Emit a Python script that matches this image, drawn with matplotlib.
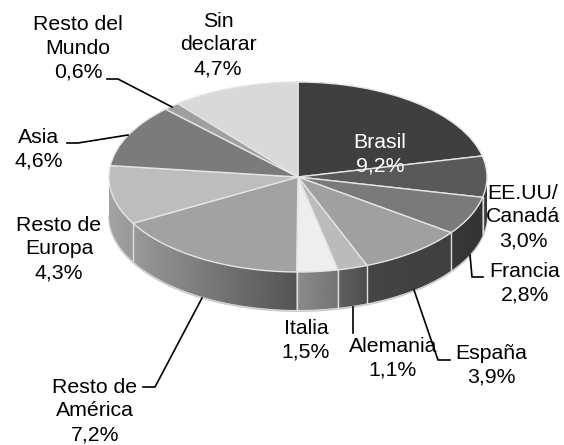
import numpy as np
import matplotlib
matplotlib.use("Agg")
import matplotlib.pyplot as plt
from matplotlib.patches import Polygon

plt.rcParams['font.family'] = ['Liberation Sans', 'DejaVu Sans']

names = ["Brasil", "EE.UU/\nCanadá", "Francia", "España", "Alemania", "Italia",
         "Resto de\nAmérica", "Resto de\nEuropa", "Asia", "Resto del\nMundo", "Sin\ndeclarar"]
values = [9.2, 3.0, 2.8, 3.9, 1.1, 1.5, 7.2, 4.3, 4.6, 0.6, 4.7]
pct_labels = ["9,2%", "3,0%", "2,8%", "3,9%", "1,1%", "1,5%", "7,2%", "4,3%", "4,6%", "0,6%", "4,7%"]

top_colors = ["#3f3f3f", "#595959", "#7a7a7a", "#a0a0a0", "#bbbbbb", "#eeeeee",
              "#a2a2a2", "#bdbdbd", "#7b7b7b", "#a0a0a0", "#d9d9d9"]
# grey level of the side wall at its left / right end on screen
wall_left = [0.25, 0.22, 0.22, 0.27, 0.38, 0.55, 0.60, 0.64, 0.5, 0.6, 0.8]
wall_right = [0.25, 0.22, 0.20, 0.25, 0.30, 0.45, 0.33, 0.60, 0.5, 0.6, 0.8]

# label centre in pixels, from the top left corner
label_x = [380, 523, 525, 491, 393, 306, 95, 59, 39, 78, 218]
label_y = [154, 217, 283, 365, 358, 340, 411, 249, 149, 48, 45]

leaders = [
    [(107, 79), (118, 79), (172, 107)],
    [(67, 143), (78, 143), (128, 135)],
    [(143, 387), (155, 387), (202, 298)],
    [(353, 333), (353, 307)],
    [(450, 360), (438, 360), (414, 290)],
    [(483, 277), (472, 277), (470, 255)],
]

W, H = 564, 445
cx, cy, rx, ry, depth = 298, 177, 189, 95, 38

fig = plt.figure(figsize=(W / 100, H / 100), dpi=100)
ax = fig.add_axes([0, 0, 1, 1])

total = sum(values)
edges = np.cumsum([0] + values) / total * 360
d = depth / ry

# side walls, only the front half of the pie shows
for i in range(len(values)):
    a0 = max(edges[i], 90)
    a1 = min(edges[i + 1], 270)
    if a1 <= a0:
        continue
    t = np.radians(np.linspace(a0, a1, 60))
    xs, ys = np.sin(t), np.cos(t)
    outline = np.column_stack([np.r_[xs, xs[::-1]], np.r_[ys, ys[::-1] - d]])
    grad = np.linspace(wall_left[i], wall_right[i], 100).reshape(1, -1)
    im = ax.imshow(grad, cmap='gray', vmin=0, vmax=1, aspect='auto', zorder=0.5,
                   extent=[xs.min(), xs.max(), outline[:, 1].min(), outline[:, 1].max()])
    im.set_clip_path(Polygon(outline, transform=ax.transData))
    # separator at the clockwise end of the wall
    if edges[i + 1] < 270:
        ax.plot([xs[-1]] * 2, [ys[-1], ys[-1] - d], color="#dddddd", lw=1, zorder=0.6)

# soft rim below the wall
t = np.radians(np.linspace(90, 270, 200))
ax.plot(np.sin(t), np.cos(t) - d - 0.012, color="#cccccc", lw=1.2, zorder=0.4)

ax.pie(values, radius=1, startangle=90, counterclock=False, colors=top_colors,
       frame=True, wedgeprops=dict(edgecolor="#e4e4e4", linewidth=1))
ax.set_aspect('auto')
ax.set_xlim(-cx / rx, (W - cx) / rx)
ax.set_ylim(-(H - cy) / ry, cy / ry)
ax.axis('off')

# labels and leader lines live in pixel coordinates
over = fig.add_axes([0, 0, 1, 1], facecolor='none')
over.set_xlim(0, W)
over.set_ylim(H, 0)
over.axis('off')
for pts in leaders:
    over.plot([p[0] for p in pts], [p[1] for p in pts], color="black", lw=1.2, zorder=2)
for i, name in enumerate(names):
    color = "white" if name == "Brasil" else "black"
    over.text(label_x[i], label_y[i], name + "\n" + pct_labels[i], ha='center', va='center',
              fontsize=15.3, color=color, linespacing=1.32, zorder=3)

fig.savefig("out.png", dpi=100)
